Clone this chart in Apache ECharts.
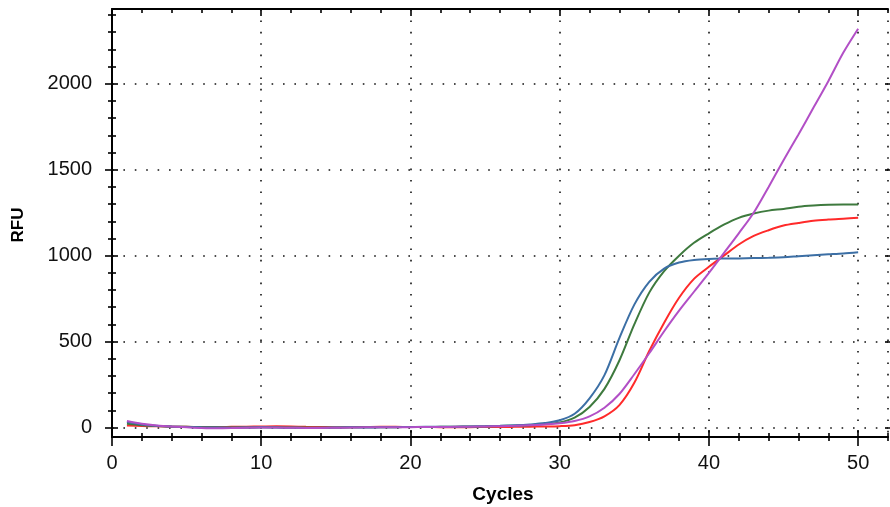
<!DOCTYPE html>
<html><head><meta charset="utf-8">
<script src="https://cdn.jsdelivr.net/npm/echarts@6/dist/echarts.min.js"></script>
<style>html,body{margin:0;padding:0;background:#fff}#c{width:890px;height:507px}</style>
</head><body><div id="c"></div>
<script>
const cycles = [1,2,3,4,5,6,7,8,9,10,11,12,13,14,15,16,17,18,19,20,21,22,23,24,25,26,27,28,29,30,31,32,33,34,35,36,37,38,39,40,41,42,43,44,45,46,47,48,49,50];
const blue   = [32,18,10,6,3,1,0,-1,0,1, 0,-1,-2,-1,0,1,0,1,2,3, 4,4,5,6,8,10,13,18,26,42, 80,170,305,520,715,848,925,960,975,981, 983,984,986,988,991,997,1003,1008,1013,1020];
const green  = [22,14,9,6,4,2,1,0,0,1, 1,0,0,-1,0,1,1,2,2,3, 3,4,5,6,7,9,11,14,20,30, 58,120,225,390,600,785,910,1000,1075,1130, 1180,1220,1245,1262,1272,1285,1292,1296,1297,1297];
const red    = [12,9,7,5,4,3,3,4,5,6, 7,6,4,3,2,2,3,4,4,3, 3,2,2,2,3,3,4,5,6,8, 14,32,65,130,260,445,610,755,865,935, 1000,1065,1115,1148,1175,1190,1203,1210,1215,1220];
const purple = [38,22,12,6,2,-2,-4,-3,-1,0, 0,-1,-2,-2,-1,0,1,1,2,2, 3,3,4,5,6,8,10,13,18,25, 38,65,115,195,310,432,560,680,790,900, 1015,1130,1250,1400,1555,1705,1860,2015,2180,2320];

const xMajorTicks = [0,10,20,30,40,50];
const xGridLines  = [10,20,30,40,50,52];
const xMinorTicks = [2,4,6,8,12,14,16,18,22,24,26,28,32,34,36,38,42,44,46,48,52];
const yMajorTicks = [0,500,1000,1500,2000];
const yMinorTicks = [100,200,300,400,600,700,800,900,1100,1200,1300,1400,1600,1700,1800,1900,2100,2200,2300,2400];

const X_MIN = 0, X_MAX = 52, Y_MIN = -55, Y_MAX = 2435;
const FONT = 'Liberation Sans, Arial, sans-serif';
const dotted = { color: '#111', width: 1.6, type: [1.6, 9.8] };

function ax(kind, pos, o) {
  const a = {
    type: 'value', gridIndex: 0, position: pos,
    min: kind === 'x' ? X_MIN : Y_MIN, max: kind === 'x' ? X_MAX : Y_MAX,
    axisLine: { show: false, onZero: false },
    axisTick: { show: false },
    axisLabel: { show: false },
    splitLine: { show: false },
    silent: true
  };
  return Object.assign(a, o);
}
const tick = (vals, len, inside) => ({ show: true, customValues: vals, length: len, inside: inside, lineStyle: { color: '#000', width: 1.6 } });
const line = { show: true, onZero: false, lineStyle: { color: '#000', width: 2 } };
const plain = v => String(v);

const xAxes = [
  ax('x', 'bottom', { axisLine: line, axisTick: tick(xMajorTicks, 9, false),
    axisLabel: { show: true, customValues: xMajorTicks, formatter: plain, margin: 16, fontSize: 20, fontFamily: FONT, color: '#111' } }),
  ax('x', 'bottom', { axisTick: Object.assign(tick(xGridLines, 0, false), { show: false }), splitLine: { show: true, lineStyle: dotted } }),
  ax('x', 'bottom', { axisTick: tick(xMajorTicks, 7, true) }),
  ax('x', 'bottom', { axisTick: tick(xMinorTicks, 4, false) }),
  ax('x', 'bottom', { axisTick: tick(xMinorTicks, 4, true) }),
  ax('x', 'top', { axisLine: line, axisTick: tick(xMinorTicks, 4, true) }),
  ax('x', 'top', { axisTick: tick(xMajorTicks, 7, true) })
];
const yAxes = [
  ax('y', 'left', { axisLine: line, axisTick: tick(yMajorTicks, 7, false),
    axisLabel: { show: true, customValues: yMajorTicks, formatter: plain, margin: 20, fontSize: 20, fontFamily: FONT, color: '#111' } }),
  ax('y', 'left', { axisTick: Object.assign(tick(yMajorTicks, 0, false), { show: false }), splitLine: { show: true, lineStyle: dotted } }),
  ax('y', 'left', { axisTick: tick(yMajorTicks, 6, true) }),
  ax('y', 'left', { axisTick: tick(yMinorTicks, 4, false) }),
  ax('y', 'left', { axisTick: tick(yMinorTicks, 4, true) }),
  ax('y', 'right', { axisTick: tick(yMajorTicks, 3, true) }),
  ax('y', 'right', { axisTick: tick(yMajorTicks, 3, false) })
];

function mk(name, arr, color) {
  return {
    name: name, type: 'line', xAxisIndex: 0, yAxisIndex: 0,
    data: cycles.map((c, i) => [c, arr[i]]),
    showSymbol: false, smooth: 0.3, silent: true,
    lineStyle: { color: color, width: 2 }, itemStyle: { color: color }
  };
}

const chart = echarts.init(document.getElementById('c'), null, { renderer: 'canvas' });
chart.setOption({
  animation: false,
  backgroundColor: '#fff',
  grid: { left: 112, right: 2, top: 9, bottom: 70, containLabel: false, outerBoundsMode: 'none' },
  xAxis: xAxes,
  yAxis: yAxes,
  graphic: [
    { type: 'text', x: 18, y: 225, rotation: Math.PI / 2,
      style: { text: 'RFU', x: 0, y: 0, align: 'center', verticalAlign: 'middle', textAlign: 'center', textVerticalAlign: 'middle',
        font: 'bold 17px ' + FONT, fill: '#000' } },
    { type: 'text', x: 503, y: 495,
      style: { text: 'Cycles', x: 0, y: 0, align: 'center', verticalAlign: 'middle', textAlign: 'center', textVerticalAlign: 'middle',
        font: 'bold 19px ' + FONT, fill: '#000' } }
  ],
  series: [
    mk('Red', red, '#ff2a2a'),
    mk('Green', green, '#3e7a3e'),
    mk('Blue', blue, '#3c6fa5'),
    mk('Purple', purple, '#b24fc6')
  ]
});
</script></body></html>
